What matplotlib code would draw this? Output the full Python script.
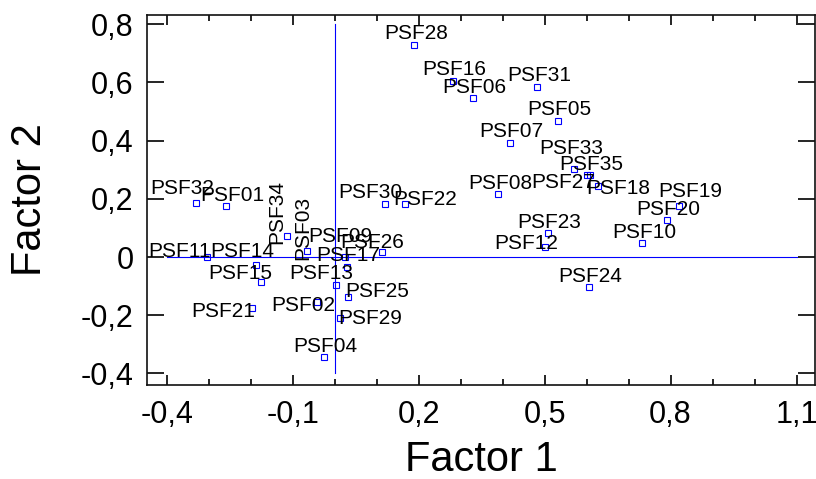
import numpy as np
import matplotlib
matplotlib.use('Agg')
import matplotlib.pyplot as plt
from matplotlib.ticker import FuncFormatter

plt.rcParams['font.family'] = ['Liberation Sans', 'DejaVu Sans']
plt.rcParams['axes.unicode_minus'] = False

names = ['PSF%02d' % i for i in range(1, 36)]
factor1 = [-0.258, -0.041, -0.065, -0.025, 0.532, 0.329, 0.418, 0.390, 0.024, 0.733,
           -0.305, 0.502, 0.004, -0.187, -0.176, 0.281, 0.029, 0.627, 0.820, 0.792,
           -0.197, 0.167, 0.507, 0.605, 0.033, 0.113, 0.600, 0.190, 0.013, 0.120,
           0.483, -0.330, 0.570, -0.114, 0.608]
factor2 = [0.175, -0.154, 0.022, -0.345, 0.468, 0.545, 0.392, 0.215, 0.001, 0.047,
           0.001, 0.035, -0.097, -0.027, -0.087, 0.606, -0.033, 0.244, 0.175, 0.127,
           -0.174, 0.182, 0.081, -0.104, -0.136, 0.017, 0.281, 0.730, -0.209, 0.182,
           0.585, 0.187, 0.303, 0.071, 0.281]
xticks = [-0.4, -0.1, 0.2, 0.5, 0.8, 1.1]
xminor = [-0.3, -0.2, 0.0, 0.1, 0.3, 0.4, 0.6, 0.7, 0.9, 1.0]
yticks = [-0.4, -0.2, 0.0, 0.2, 0.4, 0.6, 0.8]

# label offsets in pixels (dx, dy) from the point to the label's bottom centre
offsets = {'PSF32': (-14, 9), 'PSF01': (6, 5), 'PSF11': (-27, 0), 'PSF14': (-14, 8),
           'PSF15': (-20, 3), 'PSF21': (-29, -9), 'PSF02': (-14, -9), 'PSF13': (-15, 6),
           'PSF29': (30, -6), 'PSF25': (29, 0), 'PSF09': (-4, 15), 'PSF26': (-10, 4),
           'PSF30': (-15, 6), 'PSF22': (20, -1), 'PSF33': (-3, 15), 'PSF27': (-23, -13),
           'PSF18': (20, -8), 'PSF19': (11, 9), 'PSF12': (-19, -2)}
rotated = {'PSF34': (-10, 24), 'PSF03': (-5, 23)}

fig = plt.figure(figsize=(8.16, 4.79), dpi=100)
ax = fig.add_axes([0.1805, 0.1962, 0.8183, 0.7725])

ax.plot([-0.4, 1.1], [0, 0], color='blue', lw=0.8, zorder=1)
ax.plot([0, 0], [-0.4, 0.8], color='blue', lw=0.8, zorder=1)
ax.plot(factor1, factor2, linestyle='', marker='s', markersize=5, markerfacecolor='none',
        markeredgecolor='blue', markeredgewidth=0.8, zorder=3)

for n, x, y in zip(names, factor1, factor2):
    if n in rotated:
        dx, dy = rotated[n]
        ax.annotate(n, (x, y), xytext=(dx, dy), textcoords='offset pixels', rotation=90,
                    ha='center', va='center', fontsize=15)
    else:
        dx, dy = offsets.get(n, (1.5, 5.5))
        ax.annotate(n, (x, y), xytext=(dx, dy), textcoords='offset pixels',
                    ha='center', va='baseline', fontsize=15)

ax.set_xlim(-0.446, 1.144)
ax.set_ylim(-0.44, 0.832)
ax.set_xticks(xticks)
ax.set_xticks(xminor, minor=True)
ax.set_yticks(yticks)


def fmt(v, pos):
    v = round(v, 1)
    if v == 0:
        return '0'
    return ('%.1f' % v).replace('.', ',')


ax.xaxis.set_major_formatter(FuncFormatter(fmt))
ax.yaxis.set_major_formatter(FuncFormatter(fmt))
ax.tick_params(axis='x', which='major', direction='in', length=7, width=1.2,
               top=True, labelsize=22, pad=11)
ax.tick_params(axis='x', which='minor', direction='in', length=4, width=1.2, top=True)
ax.tick_params(axis='y', which='major', direction='in', length=12, width=1.2,
               right=True, labelsize=22, pad=10)
for s in ax.spines.values():
    s.set_linewidth(1.2)
    s.set_color('#111111')

ax.set_xlabel('Factor 1', fontsize=30, labelpad=7)
ax.set_ylabel('Factor 2', fontsize=30, labelpad=22)

fig.savefig('out.png', dpi=100)
